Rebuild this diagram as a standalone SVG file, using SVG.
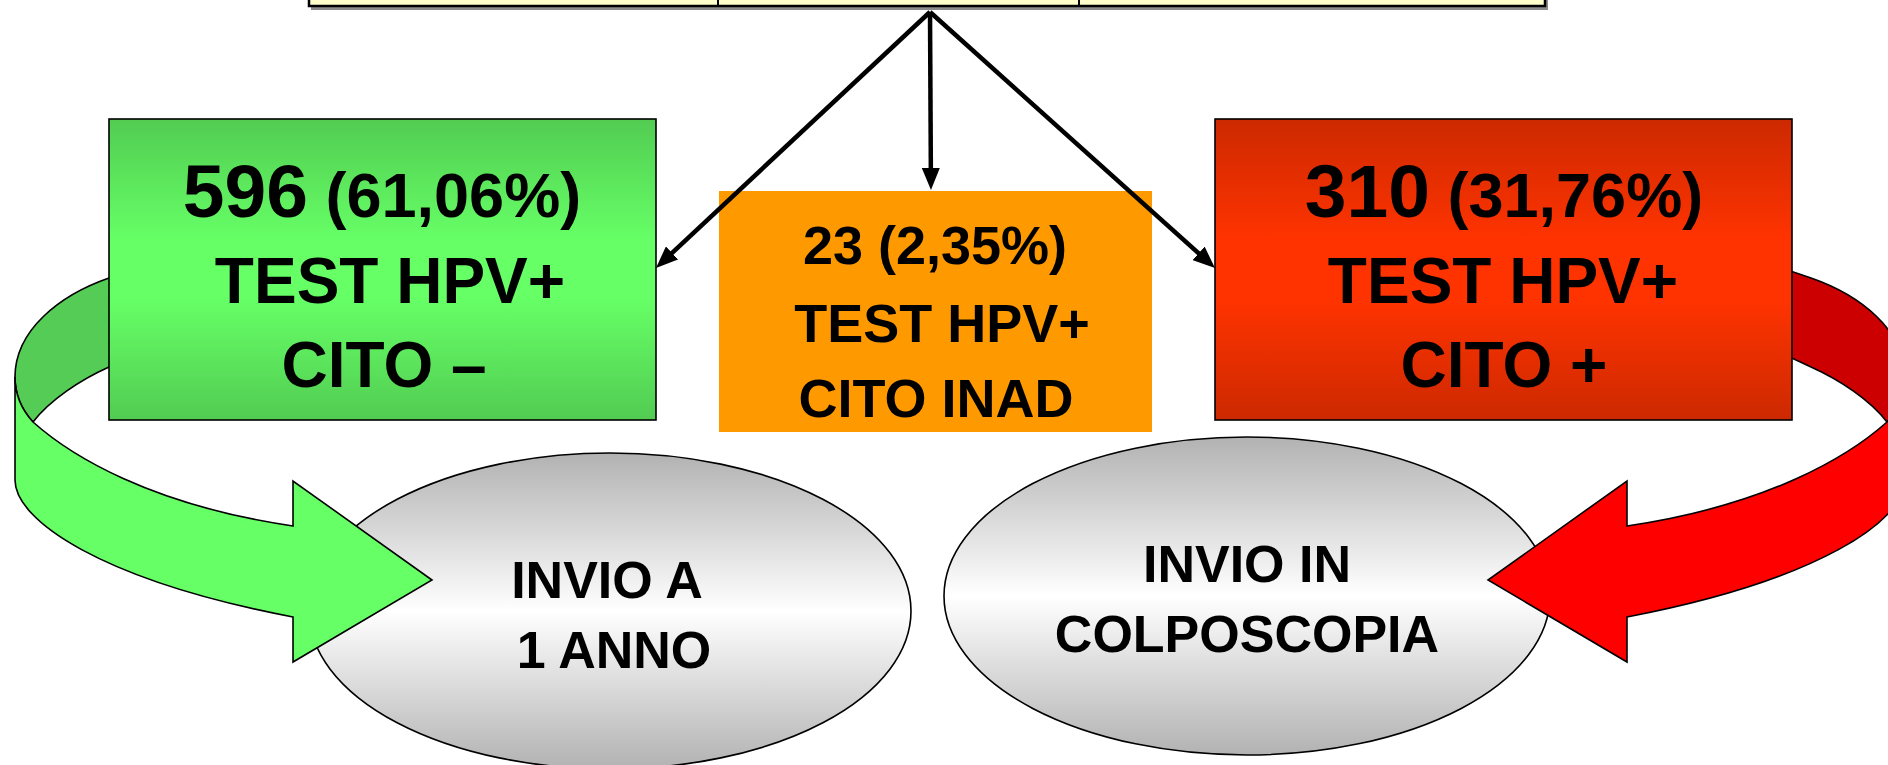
<svg xmlns="http://www.w3.org/2000/svg" width="1888" height="765" viewBox="0 0 1888 765">
<style>
  .lbl { font-family: 'Liberation Sans', Arial, sans-serif; font-weight: bold; fill: #000; text-anchor: middle; }
  .big { font-size: 64px; }
  .mid { font-size: 54px; }
  .ell { font-size: 52px; }
  .edge { stroke: #000; stroke-width: 1.6; }
  .conn { stroke: #000; stroke-width: 4.5; fill: none; marker-end: url(#ah); }
</style>
<defs>
  <linearGradient id="gGreen" x1="0" y1="0" x2="0" y2="1">
    <stop offset="0" stop-color="#52CC52"/>
    <stop offset="0.4" stop-color="#66FF66"/>
    <stop offset="0.6" stop-color="#66FF66"/>
    <stop offset="1" stop-color="#52CC52"/>
  </linearGradient>
  <linearGradient id="gRed" x1="0" y1="0" x2="0" y2="1">
    <stop offset="0" stop-color="#CC2900"/>
    <stop offset="0.4" stop-color="#FF3300"/>
    <stop offset="0.6" stop-color="#FF3300"/>
    <stop offset="1" stop-color="#CC2900"/>
  </linearGradient>
  <linearGradient id="gGray" x1="0" y1="0" x2="0" y2="1">
    <stop offset="0" stop-color="#B2B2B2"/>
    <stop offset="0.5" stop-color="#FFFFFF"/>
    <stop offset="1" stop-color="#B2B2B2"/>
  </linearGradient>
  <marker id="ah" markerUnits="userSpaceOnUse" markerWidth="22" markerHeight="18" refX="9" refY="9" orient="auto">
    <path d="M0,0 L22,9 L0,18 Z" fill="#000"/>
  </marker>
  <path id="bandBack" d="M150,264 L109,278 C60,295 15,330 15,377 C15,395 22,410 33,422 C50,400 80,380 109,367 L150,348 Z"/>
  <path id="bandFront" d="M15,377 L15,480 C15,520 100,580 293,617 L293,662 L432,580 L293,481 L293,526 C150,505 70,455 33,422 C22,410 15,395 15,377 Z"/>
</defs>

<g id="top-table">
  <rect x="311" y="-40" width="1237" height="50" fill="#8C8C8C"/>
  <rect x="309" y="-40" width="1236" height="46" fill="#FFFFCC" stroke="#000" stroke-width="2.5"/>
  <line x1="718" y1="-40" x2="718" y2="6" stroke="#000" stroke-width="2"/>
  <line x1="1079" y1="-40" x2="1079" y2="6" stroke="#000" stroke-width="2"/>
</g>

<g id="node-invio-1-anno">
  <ellipse cx="610" cy="611" rx="301" ry="158" fill="url(#gGray)" class="edge"/>
  <text class="lbl ell" x="607" y="598">INVIO A</text>
  <text class="lbl ell" x="614" y="668">1 ANNO</text>
</g>

<g id="node-invio-colposcopia">
  <ellipse cx="1247" cy="596" rx="303" ry="159" fill="url(#gGray)" class="edge"/>
  <text class="lbl ell" x="1247" y="582">INVIO IN</text>
  <text class="lbl ell" x="1247" y="652">COLPOSCOPIA</text>
</g>

<g id="arrow-green">
  <use href="#bandBack" fill="#55CC55" class="edge"/>
  <use href="#bandFront" fill="#66FF66" class="edge"/>
</g>

<g id="arrow-red" transform="matrix(-1,0,0,1,1920,0)">
  <use href="#bandBack" fill="#CC0000" class="edge"/>
  <use href="#bandFront" fill="#FF0000" class="edge"/>
</g>

<g id="node-cito-neg">
  <rect x="109" y="119" width="547" height="301" fill="url(#gGreen)" class="edge"/>
  <text class="lbl" x="382" y="217"><tspan font-size="75">596</tspan><tspan font-size="63"> (61,06%)</tspan></text>
  <text class="lbl big" x="390" y="303">TEST HPV+</text>
  <text class="lbl big" x="384" y="387">CITO –</text>
</g>

<g id="node-cito-inad">
  <rect x="719" y="191" width="433" height="241" fill="#FF9900"/>
  <text class="lbl mid" x="935" y="264">23 (2,35%)</text>
  <text class="lbl mid" x="942" y="342">TEST HPV+</text>
  <text class="lbl mid" x="936" y="417">CITO INAD</text>
</g>

<g id="node-cito-pos">
  <rect x="1215" y="119" width="577" height="301" fill="url(#gRed)" class="edge"/>
  <text class="lbl" x="1504" y="217"><tspan font-size="75">310</tspan><tspan font-size="63"> (31,76%)</tspan></text>
  <text class="lbl big" x="1503" y="303">TEST HPV+</text>
  <text class="lbl big" x="1504" y="387">CITO +</text>
</g>

<g id="connectors">
  <line class="conn" x1="930" y1="12" x2="665.5" y2="259.1"/>
  <line class="conn" x1="930" y1="12" x2="930.9" y2="177"/>
  <line class="conn" x1="930" y1="12" x2="1205.3" y2="259.3"/>
</g>
</svg>
